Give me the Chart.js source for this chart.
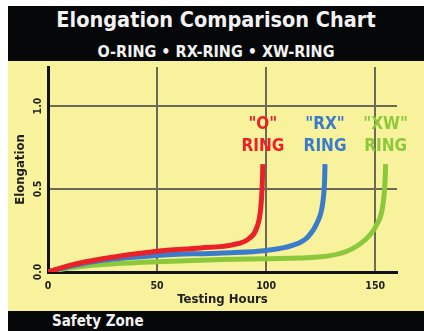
<!DOCTYPE html>
<html>
<head>
<meta charset="utf-8">
<title>Elongation Comparison Chart</title>
<script src="https://cdn.jsdelivr.net/npm/chart.js@4.4.0/dist/chart.umd.min.js"></script>
<style>
  body { margin: 0; background: #fff; font-family: "DejaVu Sans Condensed", sans-serif; }
  #panel { position: absolute; left: 8px; top: 6px; width: 416px; height: 325px; }
  #header { height: 55px; background: #050708; color: #f2f2f2; text-align: center; font-weight: bold; }
  #header h1 { margin: 0; font-size: 21.5px; line-height: 28px; }
  #header h2 { margin: 9px 0 0 0; font-size: 16px; line-height: 18px; }
  #plot { position: relative; height: 250px; background: #f8f29c; }
  #footer { height: 20px; background: #050708; color: #f2f2f2; font-weight: bold; font-size: 15px; line-height: 21px; padding-left: 44px; }
</style>
</head>
<body>
<div id="panel">
  <div id="header">
    <h1>Elongation Comparison Chart</h1>
    <h2>O-RING • RX-RING • XW-RING</h2>
  </div>
  <div id="plot"><canvas id="elongChart"></canvas></div>
  <div id="footer">Safety Zone</div>
</div>

<script>
// eixo X: horas de teste / eixo Y: alongamento
const xTicks = [0, 50, 100, 150];
const yTicks = [0, 0.5, 1.0];
const yTickLabels = ['0.0', '0.5', '1.0'];

const ringNames = ['"O"', '"RX"', '"XW"'];
const ringColors = ['#ea2227', '#3a7ccb', '#8cc83c'];

// curvas de cada corrente
const oHours  = [0, 10, 25, 50, 70, 85, 92, 95.5, 97.5, 98.2, 98.5];
const oElong  = [0, 0.04, 0.08, 0.125, 0.145, 0.165, 0.2, 0.26, 0.38, 0.52, 0.65];
const rxHours = [0, 10, 25, 50, 80, 100, 112, 119, 123.5, 126, 126.8, 127];
const rxElong = [0, 0.035, 0.07, 0.1, 0.115, 0.13, 0.16, 0.21, 0.3, 0.42, 0.55, 0.65];
const xwHours = [0, 10, 25, 50, 80, 100, 124, 137, 145, 150.5, 153.5, 154.5, 154.8];
const xwElong = [0, 0.025, 0.045, 0.062, 0.075, 0.08, 0.09, 0.125, 0.19, 0.28, 0.4, 0.54, 0.65];

const labelRows = [0.886, 0.753]; // altura do nome e de "RING"

function toPoints(xs, ys) {
    return xs.map((v, i) => ({ x: v, y: ys[i] }));
}

const FONT = '"DejaVu Sans Condensed", sans-serif';

// nomes das correntes acima do fim de cada curva
const ringLabels = {
    id: 'ringLabels',
    afterDatasetsDraw(chart) {
        const { ctx, scales: { x, y } } = chart;
        ctx.save();
        ctx.font = 'bold 17px ' + FONT;
        ctx.textAlign = 'center';
        ctx.textBaseline = 'middle';
        chart.data.datasets.forEach((ds, i) => {
            const last = ds.data[ds.data.length - 1];
            const px = x.getPixelForValue(last.x);
            ctx.fillStyle = ds.borderColor;
            ctx.fillText(ringNames[i], px, y.getPixelForValue(labelRows[0]));
            ctx.fillText('RING', px, y.getPixelForValue(labelRows[1]));
        });
        ctx.restore();
    }
};

const series = [toPoints(oHours, oElong), toPoints(rxHours, rxElong), toPoints(xwHours, xwElong)];

const ctx = document.getElementById('elongChart').getContext('2d');
const elongChart = new Chart(ctx, {
    type: 'line',
    data: {
        datasets: series.map((pts, i) => ({
            label: ringNames[i] + ' RING',
            data: pts,
            borderColor: ringColors[i],
            borderWidth: 5,
            pointRadius: 0,
            cubicInterpolationMode: 'monotone',
            fill: false
        }))
    },
    options: {
        responsive: true,
        maintainAspectRatio: false,
        animation: false,
        layout: { padding: { top: 6, right: 27, left: 0, bottom: 0 } },
        plugins: {
            legend: { display: false },
            tooltip: { enabled: false }
        },
        scales: {
            x: {
                type: 'linear',
                min: 0,
                max: 160,
                afterBuildTicks: scale => { scale.ticks = xTicks.map(v => ({ value: v })); },
                afterFit: scale => { scale.height = 39; },
                border: { color: '#111', width: 3 },
                grid: { color: '#6b6a58', lineWidth: 2, drawTicks: false },
                ticks: {
                    color: '#222',
                    padding: 8,
                    maxRotation: 0,
                    font: { family: FONT, size: 10.5, weight: 'bold' }
                },
                title: {
                    display: true,
                    text: 'Testing Hours',
                    color: '#222',
                    padding: { top: 0, bottom: 4 },
                    font: { family: FONT, size: 13, weight: 'bold' }
                }
            },
            y: {
                type: 'linear',
                min: 0,
                max: 1.235,
                afterBuildTicks: scale => { scale.ticks = yTicks.map(v => ({ value: v })); },
                afterFit: scale => {
                    scale.width = 40;
                    scale.paddingTop = 0;
                    scale.paddingBottom = 0;
                },
                border: { color: '#111', width: 3 },
                grid: { color: '#6b6a58', lineWidth: 2, drawTicks: false },
                ticks: {
                    color: '#222',
                    padding: 1,
                    minRotation: 90,
                    maxRotation: 90,
                    crossAlign: 'center',
                    font: { family: FONT, size: 10.5, weight: 'bold' },
                    callback: (v, i) => yTickLabels[i]
                },
                title: {
                    display: true,
                    text: 'Elongation',
                    color: '#222',
                    padding: { top: 5, bottom: 0 },
                    font: { family: FONT, size: 13, weight: 'bold' }
                }
            }
        }
    },
    plugins: [ringLabels]
});
</script>
</body>
</html>
